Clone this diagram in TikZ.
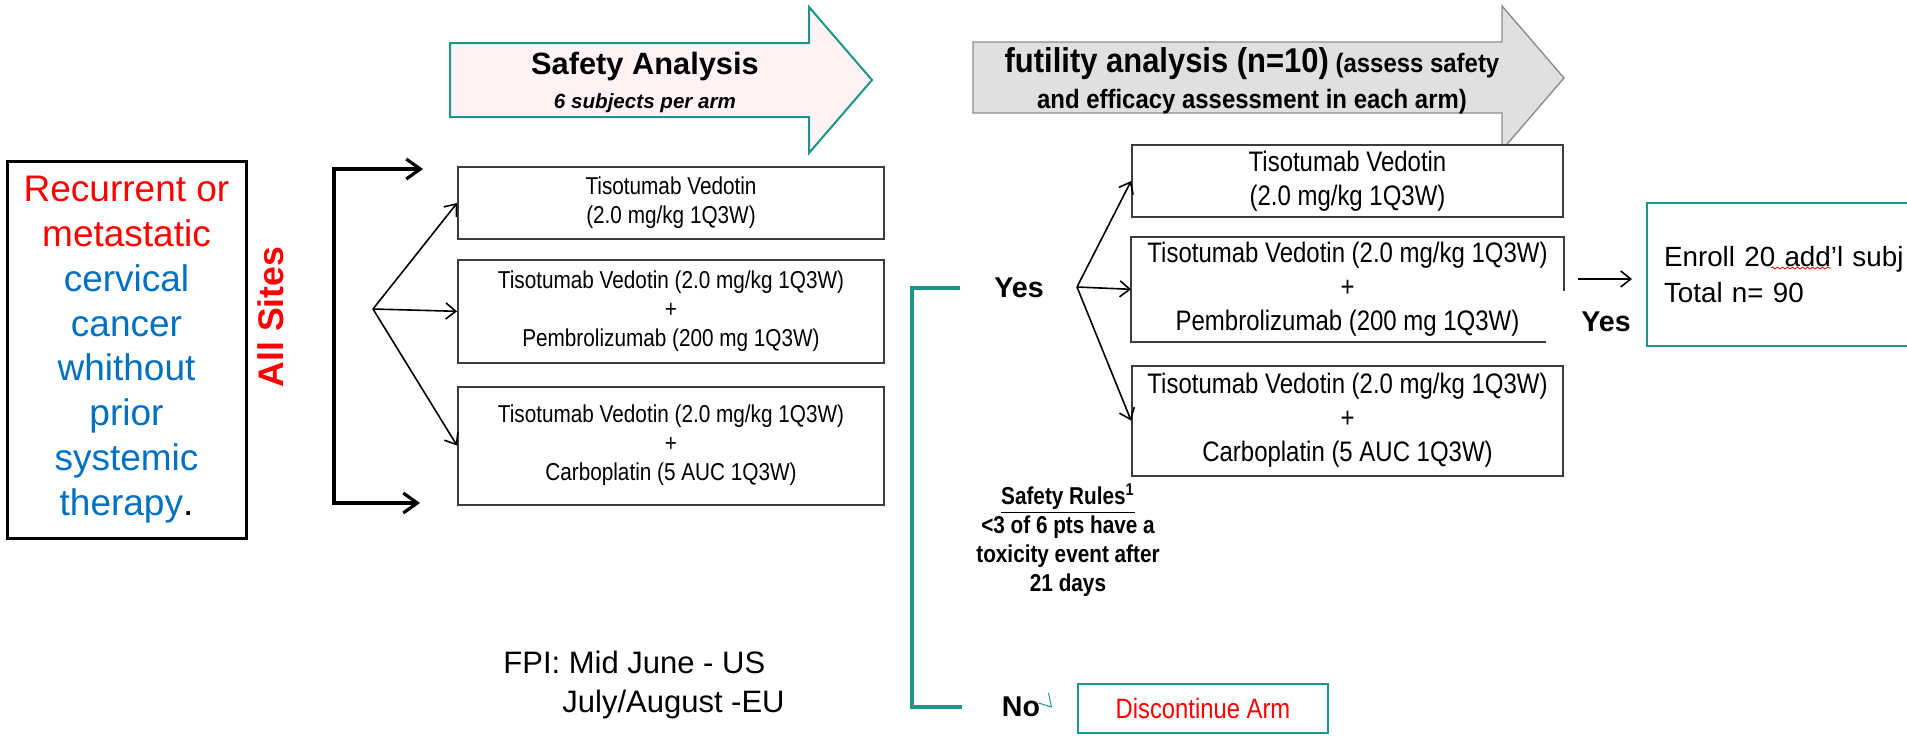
\documentclass[tikz,border=0pt]{standalone}
\usepackage{fontspec}
\setmainfont{Liberation Sans}
\newfontfamily\tallfont[FakeStretch=0.85]{Liberation Sans}
\newfontfamily\semitallfont[FakeStretch=0.9]{Liberation Sans}
\usetikzlibrary{arrows.meta,calc,positioning,decorations.pathmorphing}
\definecolor{condRed}{RGB}{255,0,0}
\definecolor{condBlue}{RGB}{0,112,192}
\definecolor{tealColor}{RGB}{28,150,136}
\definecolor{safetyFill}{RGB}{255,243,246}
\definecolor{futilityFill}{RGB}{224,224,224}
\definecolor{futilityDraw}{RGB}{140,140,140}
\definecolor{armLine}{RGB}{60,60,60}
\tikzset{arm/.style={draw=armLine, fill=white, line width=0.9pt, align=center, inner xsep=1pt, inner ysep=0.5pt}}
\tikzset{armL/.style={arm, minimum width=213pt, font=\tallfont\fontsize{12.2}{14.5}\selectfont}}
\tikzset{armR/.style={arm, minimum width=215.5pt, font=\tallfont\fontsize{14.1}{17}\selectfont}}
\tikzset{tealbox/.style={draw=tealColor, line width=1pt}}
\tikzset{answer/.style={inner sep=0pt, font=\bfseries\fontsize{14.3}{16}\selectfont}}
\tikzstyle{arrow} = [-{Straight Barb[length=5pt,width=8pt]}, line width=0.8pt]
\tikzstyle{thickarrow} = [{Straight Barb[length=7pt,width=10pt]}-{Straight Barb[length=7pt,width=10pt]}, line width=1.6pt]

\begin{document}
\begin{tikzpicture}[x=0.5pt, y=-0.5pt]
	\useasboundingbox (0,0) rectangle (1907,735);

	% Phase arrows
	\draw[draw=tealColor, fill=safetyFill, line width=1pt] (450,43) -- (809,43) -- (809,7) -- (872,80) -- (809,153) -- (809,117) -- (450,117) -- cycle;
	\node (safety) [anchor=base, font=\bfseries\fontsize{15.4}{18}\selectfont] at (645,74) {Safety Analysis};
	\node (safetysub) [anchor=base, font=\bfseries\itshape\fontsize{10.3}{12}\selectfont] at (645,108) {6 subjects per arm};

	\draw[draw=futilityDraw, fill=futilityFill, line width=0.7pt] (973,42) -- (1502,42) -- (1502,6) -- (1564,78) -- (1502,150) -- (1502,113) -- (973,113) -- cycle;
	\node (futility) [anchor=base, font=\semitallfont\bfseries\fontsize{13.3}{14}\selectfont] at (1252,72) {{\fontsize{17.2}{18}\selectfont futility analysis (n=10)} (assess safety};
	\node (futilitysub) [anchor=base, font=\semitallfont\bfseries\fontsize{13.3}{14}\selectfont] at (1252,108) {and efficacy assessment in each arm)};

	% Nodes
	\node (cond) [draw, line width=1.5pt, minimum width=119.5pt, minimum height=188.5pt, align=center, font=\fontsize{18.5}{22.4}\selectfont] at (126.5,349.5)
		{\textcolor{condRed}{Recurrent or}\\ \textcolor{condRed}{metastatic}\\ \textcolor{condBlue}{cervical}\\ \textcolor{condBlue}{cancer}\\
		 \textcolor{condBlue}{whithout}\\ \textcolor{condBlue}{prior}\\ \textcolor{condBlue}{systemic}\\ \textcolor{condBlue}{therapy}.};
	\node (sites) [rotate=90, text=condRed, font=\bfseries\fontsize{17.8}{20}\selectfont] at (271,317) {All Sites};

	\node (sa1) [armL, minimum height=36pt] at (671,203) {Tisotumab Vedotin\\ (2.0 mg/kg 1Q3W)};
	\node (sa2) [armL, minimum height=51.5pt, below=9.5pt of sa1] {Tisotumab Vedotin (2.0 mg/kg 1Q3W)\\ +\\ Pembrolizumab (200 mg 1Q3W)};
	\node (sa3) [armL, minimum height=59pt, below=11pt of sa2] {Tisotumab Vedotin (2.0 mg/kg 1Q3W)\\ +\\ Carboplatin (5 AUC 1Q3W)};

	\node (yes1) [answer] at (1019,288) {Yes};
	\node (no) [answer] at (1021,707) {No};
	\node (disc) [tealbox, minimum width=125pt, minimum height=24.5pt, text=condRed, font=\tallfont\fontsize{14}{16}\selectfont] at (1203,708.5) {Discontinue Arm};

	\node (fa1) [armR, minimum height=36pt] at (1347.5,181) {Tisotumab Vedotin\\ (2.0 mg/kg 1Q3W)};
	\node (fa2) [armR, draw=none, minimum height=51.5pt, below=9.5pt of fa1] {Tisotumab Vedotin (2.0 mg/kg 1Q3W)\\ +\\ Pembrolizumab (200 mg 1Q3W)};
	\node (fa3) [armR, minimum height=55pt, below=11.5pt of fa2] {Tisotumab Vedotin (2.0 mg/kg 1Q3W)\\ +\\ Carboplatin (5 AUC 1Q3W)};
	\draw[armLine, line width=0.9pt] ($(fa2.north east)+(0,54)$) -- (fa2.north east) -- (fa2.north west) -- (fa2.south west) -- ($(fa2.south west)+(415,0)$);

	\node (rules) [align=center, inner sep=0pt, font=\tallfont\bfseries\fontsize{12.2}{14.5}\selectfont] at (1068,540)
		{\underline{Safety Rules\textsuperscript{1}}\\ <3 of 6 pts have a\\ toxicity event after\\ 21 days};

	\node (yes2) [answer] at (1606,322) {Yes};
	\node (enroll) [tealbox, anchor=north west, minimum height=71.5pt, text width=123pt, inner xsep=8.5pt, align=left, font=\fontsize{13.9}{18}\selectfont] at (1646,202)
		{Enroll 20 add’l subj\\ Total n= 90};
	\draw[condRed, line width=0.4pt, decorate, decoration={snake, amplitude=0.5pt, segment length=2.5pt}] (1771,268) -- (1831,268);

	\node (fpi) [anchor=north west, inner sep=0pt, align=left, font=\fontsize{15.5}{19.5}\selectfont] at (503,651)
		{FPI: Mid June - US\\ \hspace*{29.5pt}July/August -EU};

	% Connectors
	\coordinate (brkTop) at (423,169);
	\coordinate (brkBot) at (420,503);
	\draw[thickarrow] (brkTop) -- ++(-89,0) |- (brkBot);

	\coordinate (fanL) at (373,309);
	\coordinate (fanR) at (1077,287);
	\begin{scope}[arrow]
		\foreach \n in {sa1,sa2,sa3}
			\draw (fanL) -- (\n.west);
		\foreach \n in {fa1,fa2,fa3}
			\draw (fanR) -- (\n.west);
	\end{scope}

	\draw[tealColor, line width=2pt] ($(yes1.west)+(-34,0)$) -- ++(-48,0) |- ($(no.west)+(-40,0)$);
	\draw[tealColor, line width=0.5pt] ($(no.east)+(-2,-4)$) -- ++(13,4) -- ++(-3,-14);

	\coordinate (toEnrollA) at (1578,279);
	\coordinate (toEnrollB) at (1632,279);
	\draw[arrow] (toEnrollA) -- (toEnrollB);

\end{tikzpicture}
\end{document}
